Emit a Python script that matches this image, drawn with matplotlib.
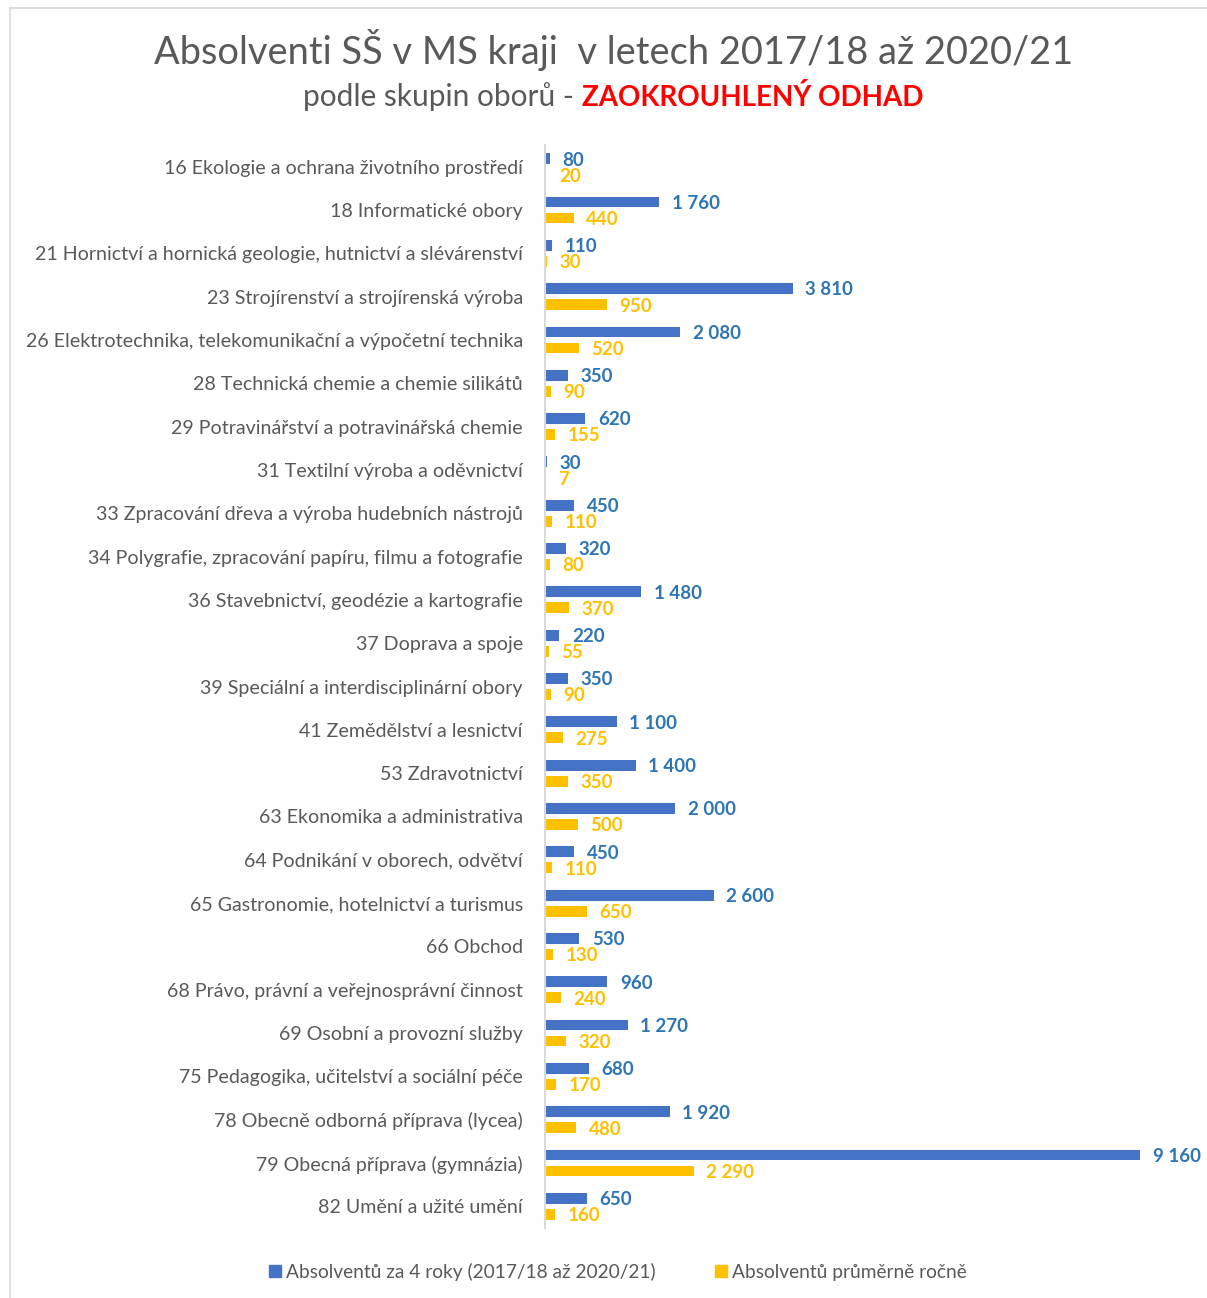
import numpy as np
import matplotlib.pyplot as plt
from matplotlib.lines import Line2D

plt.rcParams['font.family'] = ['Lato', 'DejaVu Sans']

# Data
categories = [
    "16 Ekologie a ochrana životního prostředí",
    "18 Informatické obory",
    "21 Hornictví a hornická geologie, hutnictví a slévárenství",
    "23 Strojírenství a strojírenská výroba",
    "26 Elektrotechnika, telekomunikační a výpočetní technika",
    "28 Technická chemie a chemie silikátů",
    "29 Potravinářství a potravinářská chemie",
    "31 Textilní výroba a oděvnictví",
    "33 Zpracování dřeva a výroba hudebních nástrojů",
    "34 Polygrafie, zpracování papíru, filmu a fotografie",
    "36 Stavebnictví, geodézie a kartografie",
    "37 Doprava a spoje",
    "39 Speciální a interdisciplinární obory",
    "41 Zemědělství a lesnictví",
    "53 Zdravotnictví",
    "63 Ekonomika a administrativa",
    "64 Podnikání v oborech, odvětví",
    "65 Gastronomie, hotelnictví a turismus",
    "66 Obchod",
    "68 Právo, právní a veřejnosprávní činnost",
    "69 Osobní a provozní služby",
    "75 Pedagogika, učitelství a sociální péče",
    "78 Obecně odborná příprava (lycea)",
    "79 Obecná příprava (gymnázia)",
    "82 Umění a užité umění",
]
total_4y = [80, 1760, 110, 3810, 2080, 350, 620, 30, 450, 320, 1480, 220, 350,
            1100, 1400, 2000, 450, 2600, 530, 960, 1270, 680, 1920, 9160, 650]
avg_year = [20, 440, 30, 950, 520, 90, 155, 7, 110, 80, 370, 55, 90,
            275, 350, 500, 110, 650, 130, 240, 320, 170, 480, 2290, 160]
series_names = ["Absolventů za 4 roky (2017/18 až 2020/21)", "Absolventů průměrně ročně"]

blue = "#4472C4"
orange = "#FFC000"
blue_txt = "#2E75B6"
gray = "#595959"

def fmt(v):
    return f"{v:,}".replace(",", " ")

fig = plt.figure(figsize=(12.07, 12.98), dpi=100)
ax = fig.add_axes([545/1207, 1-1228/1298, 650/1207, (1228-145)/1298])

y = np.arange(len(categories))
h = 0.25
off = 0.185
ax.barh(y - off, total_4y, height=h, color=blue)
ax.barh(y + off, avg_year, height=h, color=orange)

for yi, v in zip(y, total_4y):
    ax.annotate(fmt(v), (v, yi - off), xytext=(9, -1), textcoords='offset points',
                va='center', ha='left', color=blue_txt, fontsize=13.5, fontweight='bold')
for yi, v in zip(y, avg_year):
    ax.annotate(fmt(v), (v, yi + off), xytext=(9, -1), textcoords='offset points',
                va='center', ha='left', color=orange, fontsize=13.5, fontweight='bold')

ax.set_xlim(0, 10000)
ax.set_ylim(len(categories) - 0.5, -0.5)
ax.set_yticks(y)
ax.set_yticklabels(categories, fontsize=14.1, color=gray)
ax.tick_params(axis='y', length=0, pad=16)
ax.set_xticks([])
for s in ['top', 'right', 'bottom']:
    ax.spines[s].set_visible(False)
ax.spines['left'].set_color('#D9D9D9')
ax.spines['left'].set_linewidth(1.5)

# Titles
fig.text(614/1207, 1-50/1298, "Absolventi SŠ v MS kraji  v letech 2017/18 až 2020/21",
         ha='center', va='center', fontsize=27.4, color=gray)
x0 = 303
t1 = fig.text(x0/1207, 1-97/1298, "podle skupin oborů - ", ha='left', va='center',
              fontsize=21.5, color=gray)
fig.canvas.draw()
bb = t1.get_window_extent()
fig.text(x0/1207 + bb.width/1207, 1-97/1298, "ZAOKROUHLENÝ ODHAD", ha='left', va='center',
         fontsize=20, color='#FF0000', fontweight='bold')

# Legend
handles = [Line2D([], [], marker='s', color=blue, linestyle='', markersize=8),
           Line2D([], [], marker='s', color=orange, linestyle='', markersize=8)]
fig.legend(handles, series_names, loc='center', bbox_to_anchor=(617/1207, 1-1272/1298),
           ncol=2, frameon=False, fontsize=13.8, labelcolor=gray,
           handlelength=0.8, handletextpad=0.2, columnspacing=3)

# Frame
fig.add_artist(Line2D([10/1207, 10/1207], [0, 1-8/1298], color='#D9D9D9', lw=1.2))
fig.add_artist(Line2D([10/1207, 1], [1-8/1298, 1-8/1298], color='#D9D9D9', lw=1.2))

fig.savefig("out.png", dpi=100)
